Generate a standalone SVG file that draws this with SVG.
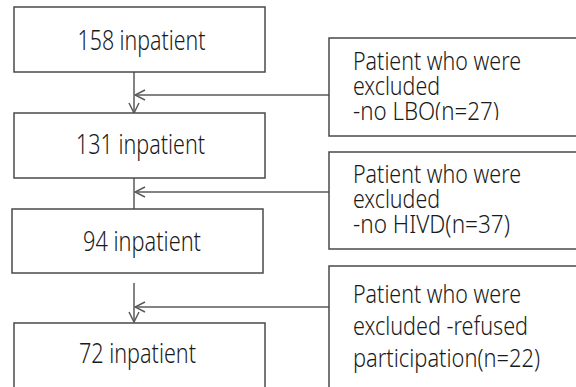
<svg xmlns="http://www.w3.org/2000/svg" width="576" height="387" viewBox="0 0 576 387">
<style>
.box{fill:#fff;stroke:#4a4a4a;stroke-width:1.5}
.ln{fill:none;stroke:#5a5a5a;stroke-width:1.5}
.t{font-family:"Noto Sans","Liberation Sans",sans-serif;fill:#1a1a1a;font-weight:300}
.l{font-size:21px;text-anchor:middle}
.r{font-size:19px}
</style>
<defs>
<marker id="ah" viewBox="0 0 12 12" refX="11" refY="6" markerWidth="12" markerHeight="12" markerUnits="userSpaceOnUse" orient="auto">
<path d="M1,1 L11,6 L1,11" fill="none" stroke="#5a5a5a" stroke-width="1.5"/>
</marker>
<clipPath id="clipA"><rect x="330" y="38" width="260" height="82"/></clipPath>
</defs>
<rect width="576" height="387" fill="#fff"/>
<g id="connectors">
<line class="ln" x1="134" y1="72" x2="134" y2="113" marker-end="url(#ah)"/>
<line class="ln" x1="329" y1="95" x2="135" y2="95" marker-end="url(#ah)"/>
<line class="ln" x1="134" y1="178" x2="134" y2="209"/>
<line class="ln" x1="329" y1="192" x2="135" y2="192" marker-end="url(#ah)"/>
<line class="ln" x1="134" y1="283" x2="134" y2="322" marker-end="url(#ah)"/>
<line class="ln" x1="329" y1="307" x2="135" y2="307" marker-end="url(#ah)"/>
</g>
<g id="n158">
<rect class="box" x="14" y="7" width="251" height="65"/>
<text class="t l" transform="translate(141.5,50) scale(1,1.32)" textLength="128" lengthAdjust="spacingAndGlyphs">158 inpatient</text>
</g>
<g id="n131">
<rect class="box" x="14" y="113" width="251" height="65"/>
<text class="t l" transform="translate(140.5,154) scale(1,1.32)" textLength="129" lengthAdjust="spacingAndGlyphs">131 inpatient</text>
</g>
<g id="n94">
<rect class="box" x="12" y="209" width="251" height="64"/>
<text class="t l" transform="translate(142,251) scale(1,1.32)" textLength="118" lengthAdjust="spacingAndGlyphs">94 inpatient</text>
</g>
<g id="n72">
<rect class="box" x="14" y="323" width="251" height="80"/>
<text class="t l" transform="translate(137.5,363) scale(1,1.32)" textLength="117" lengthAdjust="spacingAndGlyphs">72 inpatient</text>
</g>
<g id="exA">
<rect class="box" x="329" y="38" width="260" height="98"/>
<g clip-path="url(#clipA)">
<text class="t r" transform="translate(353,70) scale(1,1.3)" textLength="168" lengthAdjust="spacingAndGlyphs">Patient who were</text>
<text class="t r" transform="translate(353,95) scale(1,1.3)" textLength="87" lengthAdjust="spacingAndGlyphs">excluded</text>
<text class="t r" transform="translate(353,120) scale(1,1.3)" textLength="146" lengthAdjust="spacingAndGlyphs">-no LBO(n=27)</text>
</g>
</g>
<g id="exB">
<rect class="box" x="329" y="152" width="260" height="97"/>
<text class="t r" transform="translate(353,183) scale(1,1.3)" textLength="168" lengthAdjust="spacingAndGlyphs">Patient who were</text>
<text class="t r" transform="translate(353,208) scale(1,1.3)" textLength="87" lengthAdjust="spacingAndGlyphs">excluded</text>
<text class="t r" transform="translate(353,233) scale(1,1.3)" textLength="157" lengthAdjust="spacingAndGlyphs">-no HIVD(n=37)</text>
</g>
<g id="exC">
<rect class="box" x="329" y="266" width="260" height="140"/>
<text class="t r" transform="translate(353,303) scale(1,1.3)" textLength="168" lengthAdjust="spacingAndGlyphs">Patient who were</text>
<text class="t r" transform="translate(353,335) scale(1,1.3)" textLength="175" lengthAdjust="spacingAndGlyphs">excluded -refused</text>
<text class="t r" transform="translate(353,367) scale(1,1.3)" textLength="187" lengthAdjust="spacingAndGlyphs">participation(n=22)</text>
</g>
</svg>
